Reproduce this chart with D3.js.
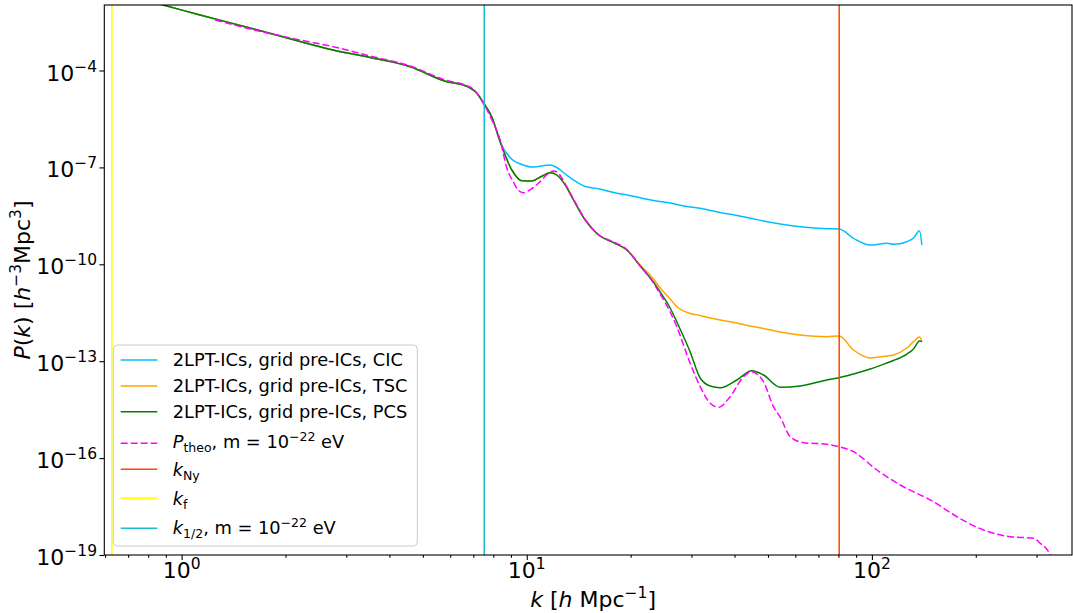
<!DOCTYPE html>
<html><head><meta charset="utf-8">
<script src="https://cdn.jsdelivr.net/npm/d3@7"></script>
<style>body{margin:0;background:#fff;} text{font-family:"DejaVu Sans",sans-serif;fill:#000;}</style>
</head><body><svg id="c" width="1073" height="613"></svg>
<script>
// ---------------- data ----------------
const kSim = [0.628, 0.884, 1.131, 1.579, 2.205, 2.748, 3.518, 4.594, 5.869, 6.555,
  7.168, 7.526, 7.922, 8.373, 9.053, 9.678, 10.35, 11.01, 11.69, 12.22,
  12.93, 13.66, 14.77, 16.14, 17.84, 19.50, 21.31, 23.29, 24.35, 26.03,
  27.22, 29.75, 31.80, 34.00, 36.35, 40.63, 44.90, 48.52, 54.23, 61.98,
  74.07, 80.39, 88.45, 98.87, 110.5, 115.5, 126.3, 132.0, 137.4, 139.6];
const pPCS = [2.81e-2, 1.07e-2, 5.22e-3, 2.07e-3, 7.91e-4, 4.32e-4, 2.52e-4, 1.31e-4, 4.50e-5, 3.56e-5,
  1.97e-5, 9.18e-6, 3.63e-6, 6.25e-7, 8.31e-8, 3.87e-8, 3.79e-8, 5.22e-8, 6.85e-8, 5.82e-8,
  2.85e-8, 9.79e-9, 2.35e-9, 8.07e-10, 4.67e-10, 2.77e-10, 8.85e-11, 2.83e-11, 1.39e-11, 4.44e-12,
  1.64e-12, 1.93e-13, 3.02e-14, 1.71e-14, 1.51e-14, 2.62e-14, 5.08e-14, 3.74e-14, 1.56e-14, 1.71e-14,
  2.62e-14, 3.08e-14, 4.02e-14, 5.74e-14, 8.79e-14, 1.05e-13, 1.67e-13, 2.39e-13, 4.22e-13, 4.02e-13];
const pCIC = [2.81e-2, 1.07e-2, 5.22e-3, 2.07e-3, 7.91e-4, 4.32e-4, 2.52e-4, 1.31e-4, 4.50e-5, 3.56e-5,
  1.97e-5, 9.18e-6, 3.63e-6, 6.25e-7, 1.78e-7, 1.23e-7, 1.03e-7, 1.10e-7, 1.19e-7, 9.93e-8,
  6.25e-8, 4.07e-8, 2.56e-8, 2.19e-8, 1.67e-8, 1.40e-8, 1.15e-8, 9.44e-9, 8.79e-9, 7.91e-9,
  7.10e-9, 5.94e-9, 5.42e-9, 4.63e-9, 4.02e-9, 3.24e-9, 2.62e-9, 2.19e-9, 1.77e-9, 1.46e-9,
  1.26e-9, 1.24e-9, 6.38e-10, 3.96e-10, 4.47e-10, 4.16e-10, 5.01e-10, 6.52e-10, 1.10e-9, 3.96e-10];
const pTSC = [2.81e-2, 1.07e-2, 5.22e-3, 2.07e-3, 7.91e-4, 4.32e-4, 2.52e-4, 1.31e-4, 4.50e-5, 3.56e-5,
  1.97e-5, 9.18e-6, 3.63e-6, 6.25e-7, 8.31e-8, 3.87e-8, 3.79e-8, 5.22e-8, 6.85e-8, 5.82e-8,
  2.85e-8, 9.79e-9, 2.35e-9, 8.07e-10, 4.67e-10, 2.77e-10, 9.51e-11, 3.51e-11, 1.85e-11, 8.43e-12,
  4.86e-12, 3.00e-12, 2.60e-12, 2.17e-12, 1.89e-12, 1.52e-12, 1.20e-12, 1.03e-12, 8.02e-13, 6.47e-13,
  5.74e-13, 6.03e-13, 2.22e-13, 1.26e-13, 1.45e-13, 1.56e-13, 2.56e-13, 4.02e-13, 5.61e-13, 4.02e-13];
const kTheo = [1.251, 1.579, 2.205, 2.748, 3.518, 4.594, 5.869, 6.555, 7.007, 7.491,
  7.922, 8.373, 8.756, 9.150, 9.461, 9.782, 10.30, 10.93, 11.46, 11.95,
  12.36, 12.93, 13.66, 14.77, 16.14, 17.84, 19.50, 21.31, 23.29, 24.35,
  26.03, 27.22, 29.75, 31.80, 34.00, 35.94, 38.85, 42.46, 44.90, 46.83,
  48.52, 51.86, 54.23, 57.98, 63.36, 74.07, 80.45, 88.45, 103.4, 120.8,
  150.8, 176.3, 210.6, 251.7, 293.9, 307.4, 328.6, 339.8];
const pTheo = [3.66e-3, 1.93e-3, 8.79e-4, 5.46e-4, 2.81e-4, 1.38e-4, 4.90e-5, 3.69e-5, 2.62e-5, 9.66e-6,
  2.93e-6, 7.05e-7, 9.57e-8, 3.53e-8, 1.93e-8, 1.65e-8, 2.14e-8, 3.61e-8, 6.03e-8, 7.74e-8,
  6.56e-8, 3.06e-8, 1.05e-8, 2.44e-9, 8.37e-10, 4.90e-10, 2.87e-10, 8.85e-11, 2.64e-11, 1.20e-11,
  3.33e-12, 1.15e-12, 8.61e-14, 1.63e-14, 4.98e-15, 3.74e-15, 7.96e-15, 3.31e-14, 4.73e-14, 3.74e-14,
  2.32e-14, 3.90e-15, 1.87e-15, 4.60e-16, 3.00e-16, 2.67e-16, 2.25e-16, 1.58e-16, 4.28e-17, 1.47e-17,
  4.47e-18, 1.53e-18, 5.94e-19, 3.69e-19, 3.29e-19, 2.30e-19, 1.00e-19, 1.68e-20];
const kNy = 80.4, kF = 0.628, kHalf = 7.53;
const xMajorTicks = [1, 10, 100];
const xTickExps = ["0", "1", "2"];
const yMajorTicks = [1e-4, 1e-7, 1e-10, 1e-13, 1e-16, 1e-19];
const yTickExps = ["\u22124", "\u22127", "\u221210", "\u221213", "\u221216", "\u221219"];

// ---------------- layout ----------------
const L = 104.3, R = 1072, T = 5, B = 555;
const svg = d3.select("#c");
const x = d3.scaleLog().domain([0.597, 380]).range([L, R]);
const y = d3.scaleLog().domain([1e-19, Math.pow(10, -1.972)]).range([B, T]);

svg.append("defs").append("clipPath").attr("id", "clip")
  .append("rect").attr("x", L).attr("y", T).attr("width", R - L).attr("height", B - T);

const plot = svg.append("g").attr("clip-path", "url(#clip)");
const line = d3.line().x(d => x(d[0])).y(d => y(d[1])).curve(d3.curveMonotoneX);
const zip = (ks, ps) => ks.map((k, i) => [k, ps[i]]);

const series = [
  {data: zip(kSim, pCIC), color: "#00bfff"},
  {data: zip(kSim, pTSC), color: "#ffa500"},
  {data: zip(kSim, pPCS), color: "#008000"},
  {data: zip(kTheo, pTheo), color: "#ff00ff", dash: "7,3"},
];
series.forEach(s => {
  plot.append("path").attr("d", line(s.data)).attr("fill", "none")
    .attr("stroke", s.color).attr("stroke-width", 1.5)
    .attr("stroke-dasharray", s.dash || null);
});
const vlines = [{k: kNy, color: "#ff4500"}, {k: kF, color: "#ffff00"}, {k: kHalf, color: "#17becf"}];
vlines.forEach(v => {
  plot.append("line").attr("x1", x(v.k)).attr("x2", x(v.k)).attr("y1", T).attr("y2", B)
    .attr("stroke", v.color).attr("stroke-width", 1.5);
});

// ---------------- axes ----------------
const xMinor = [];
[0.1, 1, 10, 100].forEach(d => { for (let m = 2; m <= 9; m++) { const v = d * m; if (v > 0.597 && v < 380) xMinor.push(v); } });
const gxMinor = svg.append("g").attr("transform", `translate(0,${B})`)
  .call(d3.axisBottom(x).tickValues(xMinor).tickSize(2.8).tickFormat(() => ""));
const gx = svg.append("g").attr("transform", `translate(0,${B})`)
  .call(d3.axisBottom(x).tickValues(xMajorTicks).tickSize(4.9).tickFormat(() => ""));
const gy = svg.append("g").attr("transform", `translate(${L},0)`)
  .call(d3.axisLeft(y).tickValues(yMajorTicks).tickSize(4.9).tickFormat(() => ""));
[gxMinor, gx, gy].forEach(g => {
  g.select(".domain").remove();
  g.selectAll(".tick line").attr("stroke", "#000").attr("stroke-width", 1.1);
});

xMajorTicks.forEach((v, i) => {
  const t = svg.append("text").attr("x", x(v)).attr("y", 578).attr("text-anchor", "middle").attr("font-size", 22);
  t.append("tspan").text("10");
  t.append("tspan").attr("font-size", 15.5).attr("dy", -9).text(xTickExps[i]);
});
yMajorTicks.forEach((v, i) => {
  const t = svg.append("text").attr("x", 97).attr("y", y(v) + 10).attr("text-anchor", "end").attr("font-size", 22);
  t.append("tspan").text("10");
  t.append("tspan").attr("font-size", 15.5).attr("dy", -9).text(yTickExps[i]);
});

svg.append("rect").attr("x", L).attr("y", T).attr("width", R - L).attr("height", B - T)
  .attr("fill", "none").attr("stroke", "#000").attr("stroke-width", 1.1);

// axis labels
const xl = svg.append("text").attr("x", (L + R) / 2 + 5).attr("y", 607).attr("text-anchor", "middle").attr("font-size", 22);
xl.append("tspan").attr("font-style", "italic").text("k");
xl.append("tspan").text(" [");
xl.append("tspan").attr("font-style", "italic").text("h");
xl.append("tspan").text(" Mpc");
xl.append("tspan").attr("font-size", 15.5).attr("dy", -9).text("\u22121");
xl.append("tspan").attr("dy", 9).text("]");

const yl = svg.append("text").attr("transform", `translate(30,${(T + B) / 2}) rotate(-90)`)
  .attr("text-anchor", "middle").attr("font-size", 22);
yl.append("tspan").attr("font-style", "italic").text("P");
yl.append("tspan").text("(");
yl.append("tspan").attr("font-style", "italic").text("k");
yl.append("tspan").text(") [");
yl.append("tspan").attr("font-style", "italic").text("h");
yl.append("tspan").attr("font-size", 15.5).attr("dy", -9).text("\u22123");
yl.append("tspan").attr("dy", 9).text("Mpc");
yl.append("tspan").attr("font-size", 15.5).attr("dy", -9).text("3");
yl.append("tspan").attr("dy", 9).text("]");

// ---------------- legend ----------------
const lg = svg.append("g");
lg.append("rect").attr("x", 113.3).attr("y", 345).attr("width", 304).attr("height", 201)
  .attr("rx", 4).attr("fill", "#fff").attr("fill-opacity", 0.8).attr("stroke", "#cccccc").attr("stroke-width", 1);
const FS = 17.8, SFS = 12.5;
const legendItems = [
  {color: "#00bfff", ly: 360, by: 366, parts: [["2LPT-ICs, grid pre-ICs, CIC"]]},
  {color: "#ffa500", ly: 386, by: 392, parts: [["2LPT-ICs, grid pre-ICs, TSC"]]},
  {color: "#008000", ly: 411.7, by: 417.7, parts: [["2LPT-ICs, grid pre-ICs, PCS"]]},
  {color: "#ff00ff", dash: "7,3", ly: 443.3, by: 448.3, parts: [["P", "i"], ["theo", "sub"], [", m = 10"], ["\u221222", "sup"], [" eV", "back"]]},
  {color: "#ff4500", ly: 469.3, by: 476, parts: [["k", "i"], ["Ny", "sub"]]},
  {color: "#ffff00", ly: 498.3, by: 505, parts: [["k", "i"], ["f", "sub"]]},
  {color: "#17becf", ly: 528.3, by: 534, parts: [["k", "i"], ["1/2", "sub"], [", m = 10", "back"], ["\u221222", "sup"], [" eV", "back2"]]},
];
legendItems.forEach(it => {
  lg.append("line").attr("x1", 120.7).attr("x2", 157.3).attr("y1", it.ly).attr("y2", it.ly)
    .attr("stroke", it.color).attr("stroke-width", 1.5).attr("stroke-dasharray", it.dash || null);
  const t = lg.append("text").attr("x", 172.7).attr("y", it.by).attr("font-size", FS);
  let shift = 0;
  it.parts.forEach(p => {
    const ts = t.append("tspan").text(p[0]);
    const kind = p[1];
    if (kind === "i") ts.attr("font-style", "italic");
    if (kind === "sub") { ts.attr("font-size", SFS).attr("dy", 4); shift = 4; }
    if (kind === "sup") { ts.attr("font-size", SFS).attr("dy", -7 - shift); shift = -7; }
    if (kind === "back" || kind === "back2" || kind === undefined) {
      if (shift !== 0) { ts.attr("dy", -shift); shift = 0; }
    }
  });
});
</script></body></html>
